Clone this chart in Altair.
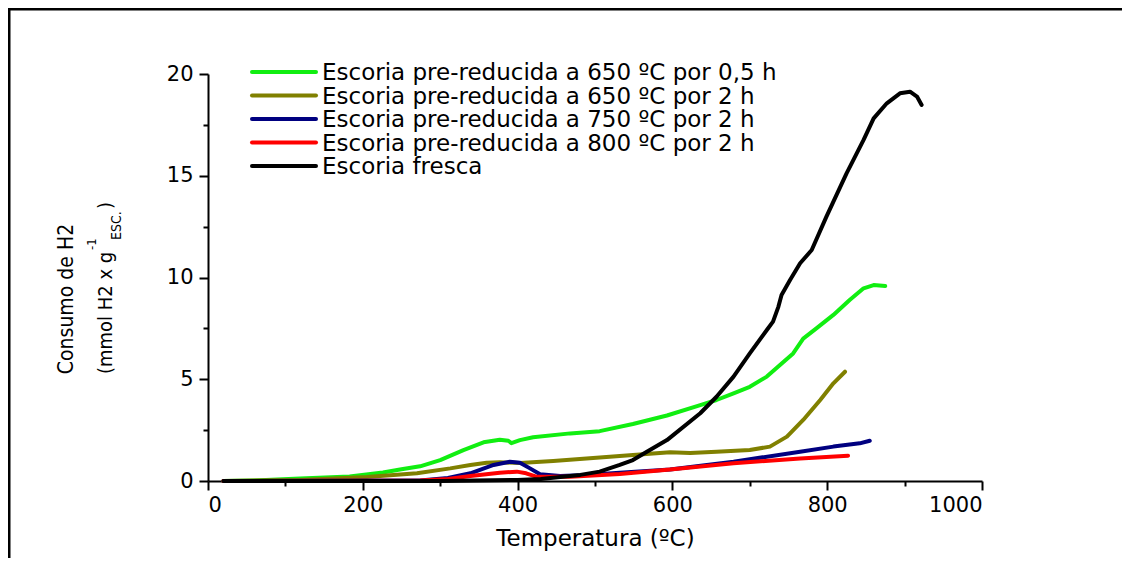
import altair as alt
import pandas as pd

# ---------------- data ----------------
series_names = [
    "Escoria pre-reducida a 650 ºC por 0,5 h",
    "Escoria pre-reducida a 650 ºC por 2 h",
    "Escoria pre-reducida a 750 ºC por 2 h",
    "Escoria pre-reducida a 800 ºC por 2 h",
    "Escoria fresca",
]
series_colors = ["#11ee11", "#808000", "#000080", "#ff0000", "#000000"]

green_t = [20, 60, 119, 183, 226, 250, 274, 300, 330, 356, 377, 388, 392, 403, 420, 468, 506,
           549, 593, 636, 657, 679, 700, 722, 739, 756, 769, 786, 808, 829, 847, 860, 875]
green_v = [0.0, 0.03, 0.12, 0.22, 0.42, 0.58, 0.72, 1.03, 1.52, 1.9, 2.03, 1.98, 1.86, 2.01, 2.15,
           2.34, 2.45, 2.8, 3.22, 3.73, 3.98, 4.31, 4.63, 5.13, 5.70, 6.27, 7.0, 7.5, 8.16, 8.89,
           9.47, 9.63, 9.58]

olive_t = [20, 119, 205, 270, 313, 339, 360, 377, 403, 446, 489, 532, 575, 597, 623, 657, 700,
           726, 748, 769, 791, 808, 823]
olive_v = [0.0, 0.05, 0.2, 0.38, 0.62, 0.79, 0.9, 0.92, 0.88, 0.98, 1.1, 1.23, 1.35, 1.41, 1.37,
           1.44, 1.52, 1.69, 2.18, 3.0, 3.98, 4.8, 5.37]

navy_t = [20, 200, 274, 310, 339, 369, 390, 403, 416, 429, 455, 489, 532, 597, 679, 765, 808, 842, 855]
navy_v = [0.0, 0.02, 0.03, 0.15, 0.38, 0.79, 0.95, 0.9, 0.62, 0.33, 0.25, 0.29, 0.41, 0.57, 0.95,
          1.44, 1.69, 1.85, 1.98]

red_t = [20, 274, 310, 339, 377, 399, 411, 424, 468, 532, 597, 679, 765, 827]
red_v = [0.0, 0.02, 0.1, 0.25, 0.41, 0.46, 0.38, 0.21, 0.21, 0.34, 0.56, 0.87, 1.11, 1.24]

black_t = [20, 300, 400, 430, 455, 481, 506, 532, 549, 567, 593, 636, 657, 679, 700, 722, 730,
           737, 741, 752, 765, 780, 799, 825, 847, 860, 877, 894, 907, 916, 922]
black_v = [0.0, 0.0, 0.05, 0.1, 0.2, 0.3, 0.46, 0.79, 1.03, 1.44, 2.01, 3.33, 4.14, 5.13, 6.27,
           7.42, 7.83, 8.57, 9.14, 9.88, 10.7, 11.35, 12.99, 15.12, 16.76, 17.82, 18.56, 19.05,
           19.13, 18.89, 18.48]

x_title = "Temperatura (ºC)"
y_title_line1 = "Consumo de H2"
y_title_line2 = "(mmol H2 x g"
y_title_sup = "-1"
y_title_sub = "ESC."
y_title_close = ")"

x_tick_values = list(range(0, 1001, 100))
y_tick_values = [0, 2.5, 5, 7.5, 10, 12.5, 15, 17.5, 20]

# ---------------- build tables ----------------
rows = []
all_series = [(green_t, green_v), (olive_t, olive_v), (navy_t, navy_v),
              (red_t, red_v), (black_t, black_v)]
for i, (name, (ts, vs)) in enumerate(zip(series_names, all_series)):
    for t, v in zip(ts, vs):
        rows.append({"serie": name, "T": t, "V": v, "k": i})
df = pd.DataFrame(rows)

legend_df = pd.DataFrame({"serie": series_names, "row": list(range(len(series_names)))})

FONT = "DejaVu Sans"
NARROW = "Liberation Sans Narrow, Arial Narrow, DejaVu Sans Condensed, Roboto Condensed, sans-serif"

color_scale = alt.Scale(domain=series_names, range=series_colors)

lines = alt.Chart(df).mark_line(strokeWidth=4, strokeJoin="round", strokeCap="round").encode(
    x=alt.X("T:Q",
            scale=alt.Scale(domain=[0, 1000], nice=False),
            axis=alt.Axis(values=x_tick_values, title=x_title, format="d",
                          labelExpr="datum.value % 200 === 0 ? datum.label : ''",
                          tickSize={"condition": {"test": "datum.value % 200 === 0", "value": 9}, "value": 5},
                          labelPadding=4, titlePadding=12, labelOverlap=False)),
    y=alt.Y("V:Q",
            scale=alt.Scale(domain=[0, 20], nice=False),
            axis=alt.Axis(values=y_tick_values, title=None,
                          labelExpr="datum.value % 5 === 0 ? datum.label : ''",
                          tickSize={"condition": {"test": "datum.value % 5 === 0", "value": 9}, "value": 5},
                          labelPadding=6, labelOverlap=False)),
    color=alt.Color("serie:N", scale=color_scale, legend=None),
    detail="k:N",
)

# legend built from its own table, rows placed by a dedicated scale
leg_y = alt.Y("row:Q", scale=alt.Scale(domain=[0, 4], range=[-2, 92]), axis=None)
legend_lines = alt.Chart(legend_df).mark_rule(strokeWidth=4, strokeCap="round").encode(
    x=alt.value(44), x2=alt.value(108), y=leg_y,
    color=alt.Color("serie:N", scale=color_scale, legend=None),
)
legend_text = alt.Chart(legend_df).mark_text(
    align="left", baseline="middle", font=FONT, fontSize=23, color="black", dy=1
).encode(x=alt.value(114), y=leg_y, text="serie:N")


def txt(s, x, y, size, align="left"):
    return alt.Chart(pd.DataFrame({"t": [s]})).mark_text(
        angle=270, align=align, baseline="alphabetic", font=NARROW, fontSize=size, color="black"
    ).encode(text="t:N", x=alt.value(x), y=alt.value(y))


ytitle = [
    txt(y_title_line1, -135, 225, 21, align="center"),
    txt(y_title_line2, -96, 300, 20),
    txt(y_title_sup, -112, 176, 13),
    txt(y_title_sub, -87, 166, 14),
    txt(y_title_close, -96, 135, 20),
]

one = pd.DataFrame({"a": [0]})
frame_left = alt.Chart(one).mark_rule(color="black", strokeWidth=3).encode(
    x=alt.value(-199), y=alt.value(-66), y2=alt.value(520))
frame_top = alt.Chart(one).mark_rule(color="black", strokeWidth=3).encode(
    y=alt.value(-65), x=alt.value(-200), x2=alt.value(930))

chart = alt.layer(lines, legend_lines, legend_text, *ytitle, frame_left, frame_top).resolve_scale(
    y="independent"
).properties(
    width=774, height=407,
    padding={"left": 200, "top": 66, "right": 140, "bottom": 77},
    autosize=alt.AutoSizeParams(type="none"),
).configure_view(stroke=None).configure_axis(
    domainColor="black", domainWidth=2, tickColor="black", tickWidth=2,
    labelColor="black", labelFont=FONT, labelFontSize=21,
    titleFont=FONT, titleFontSize=23, titleFontWeight="normal", titleColor="black",
    grid=False,
)

chart.save("out.html", embed_options={"renderer": "svg", "actions": False})
